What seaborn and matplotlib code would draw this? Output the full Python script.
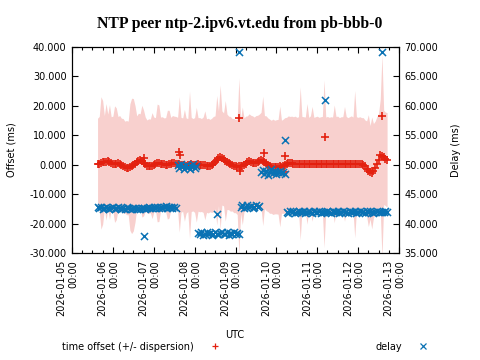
import matplotlib
matplotlib.use("Agg")
import numpy as np
import pandas as pd
import matplotlib.pyplot as plt
import matplotlib.dates as mdates
import seaborn as sns
from matplotlib.ticker import FormatStrFormatter, MultipleLocator
from matplotlib.transforms import ScaledTranslation
from matplotlib.lines import Line2D

# ---------------- data (hourly samples from 2026-01-05 15:00) ----------------
start_time = "2026-01-05 15:00"

offset_ms = [
    0.2, 0.4, 0.6, 0.8, 0.9, 1.0, 1.1, 0.9, 0.6, 0.3, 0.2, 0.3,
    0.5, 0.4, 0.0, -0.4, -0.8, -1.0, -1.1, -0.8, -0.4, 0.0, 0.3, 0.8,
    1.3, 1.6, 1.2, 0.6, 0.2, -0.6, -0.5, -0.4, -0.3, 0.0, 0.3, 0.6,
    0.5, 0.3, 0.2, 0.1, 0.0, 0.0, 0.2, 0.4, 0.5, 0.6, 0.4, 0.3,
    0.1, 0.0, 0.0, -0.2, -0.3, -0.1, 0.0, 0.1, 0.0, -0.1, 0.0, 0.1,
    0.0, -0.1, 0.0, -0.2, -0.3, -0.3, -0.3, -0.2, 0.2, 0.8, 1.5, 2.2,
    2.6, 2.3, 1.8, 1.3, 1.0, 0.6, 0.3, 0.0, -0.3, -0.5, -0.7, -0.6,
    -0.5, -0.4, 0.0, 0.4, 0.8, 1.1, 0.9, 0.6, 0.5, 0.6, 0.9, 1.2,
    1.6, 1.3, 0.9, 0.5, 0.0, -0.5, -0.7, -0.7, -0.8, -0.7, -0.7, -0.6,
    -0.7, -0.5, -0.2, 0.2, 0.5, 0.6, 0.5, 0.4, 0.3, 0.3, 0.3, 0.4,
    0.3, 0.4, 0.2, 0.3, 0.3, 0.4, 0.3, 0.2, 0.3, 0.4, 0.3, 0.3,
    0.2, 0.3, 0.3, 0.4, 0.3, 0.2, 0.3, 0.3, 0.4, 0.3, 0.2, 0.3,
    0.4, 0.3, 0.3, 0.2, 0.3, 0.4, 0.3, 0.2, 0.3, 0.3, 0.2, 0.1,
    0.0, -0.6, -1.3, -2.0, -2.6, -2.8, -2.0, -1.0, 0.2, 1.5, 3.3, 2.9,
    2.5, 2.0, 1.6,
]

dispersion_ms = [
    15.6, 16.0, 22.5, 21.0, 15.8, 19.8, 16.1, 19.5, 15.7, 16.2, 19.8, 19.0,
    15.9, 16.3, 15.8, 16.1, 15.6, 16.0, 15.9, 21.5, 23.0, 22.5, 19.8, 15.8,
    16.2, 15.7, 19.0, 18.0, 16.0, 15.8, 16.1, 15.9, 18.0, 16.2, 15.7, 20.0,
    19.8, 15.9, 16.1, 15.8, 16.0, 18.5, 18.3, 15.7, 16.2, 15.9, 16.0, 15.8,
    23.0, 16.1, 15.9, 19.0, 16.2, 15.8, 25.0, 16.0, 15.7, 16.1, 19.5, 15.9,
    16.0, 15.8, 16.2, 18.5, 15.9, 16.1, 15.7, 16.0, 16.2, 15.8, 22.0, 16.1,
    24.5, 16.0, 15.8, 20.5, 16.2, 15.9, 16.1, 15.7, 16.0, 15.8, 16.2, 30.0,
    16.0, 20.0, 15.9, 16.1, 15.8, 16.2, 15.9, 16.0, 15.7, 16.1, 15.9, 16.0,
    16.2, 22.0, 15.8, 16.1, 15.9, 16.0, 15.8, 16.2, 15.9, 16.0, 16.1, 20.5,
    15.8, 16.0, 16.2, 15.9, 16.1, 15.8, 16.0, 15.9, 16.2, 15.8, 16.0, 26.0,
    16.1, 15.9, 16.0, 20.5, 15.8, 16.2, 19.5, 15.9, 16.0, 16.1, 15.8, 16.0,
    16.2, 28.5, 15.9, 16.0, 15.8, 16.1, 15.9, 20.0, 16.0, 16.2, 15.8, 16.0,
    15.9, 19.5, 16.1, 15.8, 16.0, 16.2, 15.9, 25.0, 16.0, 15.8, 16.1, 15.9,
    16.0, 15.8, 16.2, 19.0, 15.9, 19.0, 16.0, 15.8, 16.1, 15.9, 19.0, 34.5,
    16.0, 15.9, 16.1,
]

delay_ms = [
    42.9, 42.6, 42.8, 42.5, 42.7, 42.9, 42.6, 42.4, 42.7, 42.8, 42.5, 42.6,
    42.9, 42.7, 42.4, 42.6, 42.5, 42.8, 42.6, 42.4, 42.5, 42.7, 42.6, 42.5,
    42.6, 42.4, 42.7, 42.6, 42.5, 42.6, 42.8, 42.6, 42.7, 42.9, 42.6, 42.8,
    42.7, 42.9, 42.6, 42.8, 43.0, 42.7, 42.9, 42.8, 42.6, 42.9, 42.7, 49.9,
    49.5, 50.2, 49.7, 49.3, 50.0, 49.6, 49.2, 49.8, 50.1, 49.4, 49.7, 38.4,
    38.2, 38.5, 38.1, 38.3, 38.6, 38.2, 38.4, 38.1, 38.3, 38.5, 38.3, 38.2,
    38.4, 38.6, 38.2, 38.3, 38.5, 38.1, 38.4, 38.3, 38.6, 38.2, 38.4, 38.3,
    42.9, 43.2, 42.7, 42.9, 43.1, 42.8, 43.0, 42.6, 42.9, 43.1, 42.8, 43.0,
    48.7, 49.1, 48.5, 48.9, 48.3, 48.8, 49.2, 48.6, 48.9, 48.4, 48.7, 49.0,
    48.6, 48.8, 48.5, 42.0, 41.8, 42.1, 41.9, 42.2, 41.8, 42.0, 42.1, 41.9,
    42.0, 42.2, 41.8, 41.9, 42.1, 42.0, 41.8, 42.2, 41.9, 42.0, 42.1, 41.8,
    42.0, 42.0, 41.9, 42.1, 42.0, 41.8, 42.2, 41.9, 42.0, 42.1, 41.8, 42.0,
    42.2, 41.9, 42.0, 41.8, 42.1, 42.0, 41.9, 42.2, 41.8, 42.0, 42.1, 41.9,
    42.0, 41.8, 42.1, 41.9, 42.2, 42.0, 41.8, 41.9, 42.1, 42.0, 41.9, 42.0,
    42.0, 42.1, 41.9,
]

# isolated samples
offset_outlier_times = ["2026-01-06 18:00", "2026-01-07 15:00", "2026-01-07 15:30",
                        "2026-01-09 02:00", "2026-01-09 02:30", "2026-01-09 17:00",
                        "2026-01-10 04:30", "2026-01-10 05:00", "2026-01-11 04:30",
                        "2026-01-12 14:00"]
offset_outliers = [2.2, 4.4, 3.3, 15.9, -2.3, 4.0, -2.5, 2.8, 9.3, 16.6]

delay_outlier_times = ["2026-01-06 18:00", "2026-01-08 13:00", "2026-01-09 02:00",
                       "2026-01-10 05:00", "2026-01-11 04:30", "2026-01-12 14:00"]
delay_outliers = [37.9, 41.7, 69.2, 54.2, 61.0, 69.1]

title = "NTP peer ntp-2.ipv6.vt.edu from pb-bbb-0"

# ---------------- styling ----------------
sns.set_style("ticks")
plt.rcParams["font.family"] = ["DejaVu Sans"]
plt.rcParams["font.size"] = 7
for k in ("text.color", "axes.labelcolor", "xtick.color", "ytick.color", "axes.edgecolor"):
    plt.rcParams[k] = "black"

RED = "#e3200f"
BLUE = "#0a72b4"
PINK = "#f8d0ce"

times = pd.date_range(start_time, periods=len(offset_ms), freq="h")
off = np.array(offset_ms)
disp = np.array(dispersion_ms)

off_df = pd.concat([
    pd.DataFrame({"time": times, "offset": off}),
    pd.DataFrame({"time": pd.to_datetime(offset_outlier_times), "offset": offset_outliers}),
])
del_df = pd.concat([
    pd.DataFrame({"time": times, "delay": delay_ms}),
    pd.DataFrame({"time": pd.to_datetime(delay_outlier_times), "delay": delay_outliers}),
])

fig = plt.figure(figsize=(4.8, 3.6), dpi=100)
ax = fig.add_axes([72 / 480, 107 / 360, 327 / 480, 206 / 360])
ax2 = ax.twinx()

ax.fill_between(times, off - disp, off + disp, color=PINK, lw=0, zorder=1)
sns.scatterplot(data=off_df, x="time", y="offset", ax=ax, marker="+", color=RED,
                s=32, linewidth=1.2, zorder=3, legend=False)
sns.scatterplot(data=del_df, x="time", y="delay", ax=ax2, marker="x", color=BLUE,
                s=26, linewidth=1.1, zorder=3, legend=False)

ax.set_xlim(pd.Timestamp("2026-01-05"), pd.Timestamp("2026-01-13"))
ax.set_ylim(-30, 40)
ax2.set_ylim(35, 70)
ax.yaxis.set_major_locator(MultipleLocator(10))
ax2.yaxis.set_major_locator(MultipleLocator(5))
ax.yaxis.set_major_formatter(FormatStrFormatter("%.3f"))
ax2.yaxis.set_major_formatter(FormatStrFormatter("%.3f"))

ax.xaxis.set_major_locator(mdates.DayLocator())
ax.xaxis.set_minor_locator(mdates.HourLocator(byhour=[6, 12, 18]))
ax.xaxis.set_major_formatter(mdates.DateFormatter("%Y-%m-%d\n%H:%M"))

for a in (ax, ax2):
    for s in a.spines.values():
        s.set_linewidth(0.8)
        s.set_color("black")
        s.set_visible(True)

ax.tick_params(axis="x", which="major", direction="in", length=4.3, width=0.8,
               top=True, bottom=True, pad=5, labelsize=7, colors="black")
ax.tick_params(axis="x", which="minor", direction="in", length=2.4, width=0.8,
               top=True, bottom=True, colors="black")
ax.tick_params(axis="y", which="major", direction="in", length=4.3, width=0.8,
               left=True, right=False, pad=4, labelsize=7, colors="black")
ax2.tick_params(axis="y", which="major", direction="in", length=4.3, width=0.8,
                right=True, left=False, pad=4, labelsize=7, colors="black")

ax.set_ylabel("Offset (ms)", fontsize=7, color="black")
ax.yaxis.set_label_coords((17 - 72) / 327, 0.5)
ax2.set_ylabel("Delay (ms)", fontsize=7, color="black")
ax2.yaxis.set_label_coords((451 - 72) / 327, 0.5)
ax.set_xlabel("UTC", fontsize=7, color="black")
ax.xaxis.set_label_coords((235 - 72) / 327, (253 - 330.5) / 206)

fig.text(240 / 480, 1 - 23.5 / 360, title, ha="center", va="center", color="black",
         fontsize=11.3, fontweight="bold", family=["Liberation Serif"])

handles = [Line2D([], [], marker="+", ls="none", color=RED, ms=5, mew=0.9),
           Line2D([], [], marker="x", ls="none", color=BLUE, ms=4.5, mew=0.9)]
fig.legend(handles, ["time offset (+/- dispersion)", "delay"], loc="center left",
           bbox_to_anchor=(62 / 480, 1 - 346.5 / 360), ncol=2, markerfirst=False,
           frameon=False, borderpad=0, borderaxespad=0, handlelength=1.5,
           handletextpad=1.4, columnspacing=15.8, fontsize=7, labelcolor="black")

fig.canvas.draw()
shift = ScaledTranslation(-4.5 / 100, 0, fig.dpi_scale_trans)
for lbl in ax.get_xticklabels():
    lbl.set_rotation(90)
    lbl.set_va("top")
    lbl.set_ha("center")
    lbl.set_multialignment("right")
    lbl.set_transform(lbl.get_transform() + shift)

fig.savefig("out.png", dpi=100)
